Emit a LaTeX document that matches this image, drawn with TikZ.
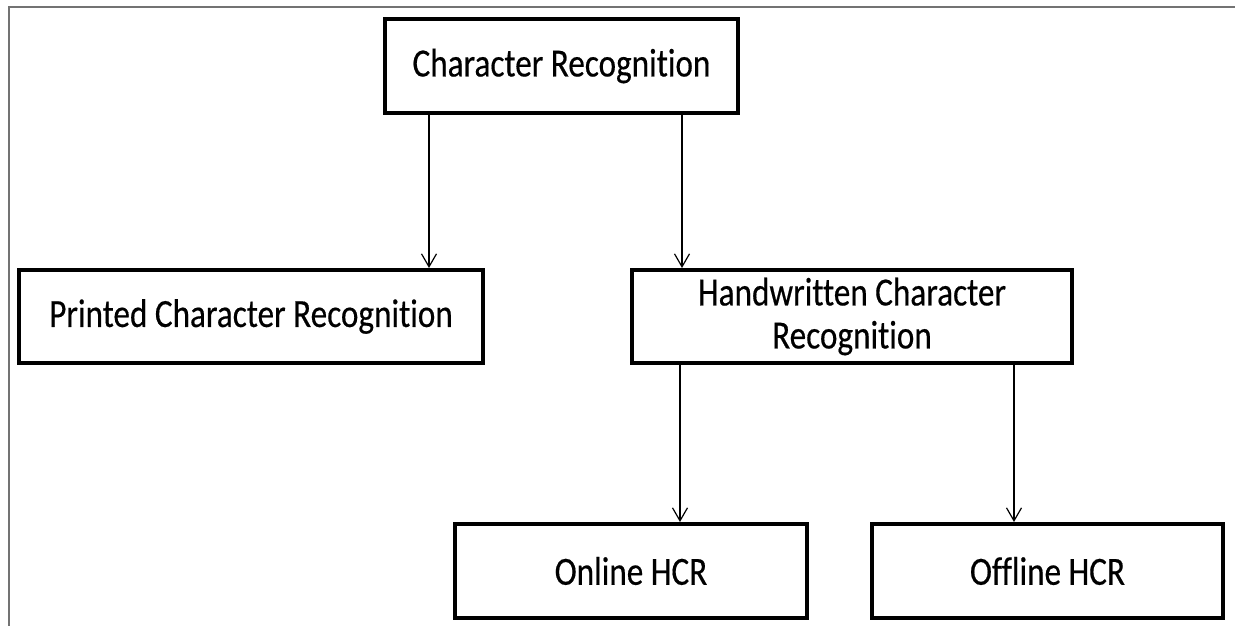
\documentclass[tikz,border=0pt]{standalone}
\usepackage{fontspec}
\setmainfont{Carlito}[FakeStretch=0.83,FakeBold=0.4,Ligatures=NoCommon]
\usetikzlibrary{arrows.meta}
\tikzset{
  crbox/.style={draw, line width=4pt, inner sep=0pt, align=center,
    font=\fontsize{40}{43}\selectfont},
  crarrow/.style={-{Straight Barb[length=13pt,width=15pt]}, line width=1.2pt},
  frame/.style={draw=black!55, line width=2pt}
}
\begin{document}
\begin{tikzpicture}[x=1pt,y=-1pt]
   \useasboundingbox (0,0) rectangle (1235,626);
   \draw[frame] (9,626) -- (9,7) -- (1235,7);
   % boxes
   \node[crbox, minimum width=353pt, minimum height=94pt] (cr) at (561.5,66) {Character Recognition};
   \node[crbox, minimum width=464pt, minimum height=93pt] (pcr) at (251,316.5) {Printed Character Recognition};
   \node[crbox, minimum width=440pt, minimum height=93pt] (hcr) at (852,316.5) {Handwritten Character\\Recognition};
   \node[crbox, minimum width=352pt, minimum height=94pt] (on) at (631,571) {Online HCR};
   \node[crbox, minimum width=351pt, minimum height=94pt] (off) at (1047.5,571) {Offline HCR};
   % arrows
   \coordinate (x1) at (429,0);
   \coordinate (x2) at (682,0);
   \coordinate (x3) at (680,0);
   \coordinate (x4) at (1014,0);
   \draw[crarrow] (cr.south -| x1) -- (pcr.north -| x1);
   \draw[crarrow] (cr.south -| x2) -- (hcr.north -| x2);
   \draw[crarrow] (hcr.south -| x3) -- (on.north -| x3);
   \draw[crarrow] (hcr.south -| x4) -- (off.north -| x4);
\end{tikzpicture}
\end{document}
